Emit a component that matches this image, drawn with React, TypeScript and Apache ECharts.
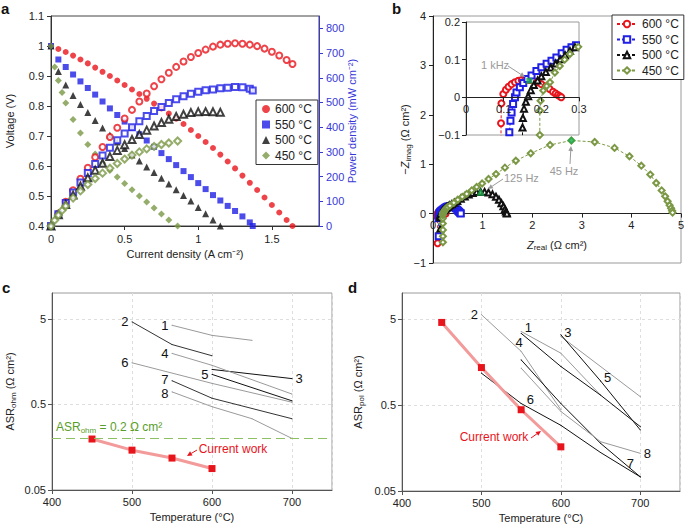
import React, { useEffect, useRef } from "react";
import * as echarts from "echarts";

const FONT = "'Liberation Sans', Arial, Helvetica, sans-serif";
const RED = "#e8141c";
const BLUE = "#1f1fe6";
const BLACK = "#111111";
const OLIVE = "#7b9845";
const GREEN = "#1fae4b";
const AXIS_BLUE = "#3838d8";
const GRAY_TXT = "#9a9a9a";

// ---------------- Panel a: I-V and power density ----------------
const tempLabels = ["600 °C", "550 °C", "500 °C", "450 °C"];
const current600 = [0, 0.05, 0.1, 0.15, 0.2, 0.25, 0.3, 0.35, 0.4, 0.45, 0.5, 0.55, 0.6, 0.65, 0.7, 0.75, 0.8, 0.85, 0.9, 0.95, 1.0, 1.05, 1.1, 1.15, 1.2, 1.25, 1.3, 1.35, 1.4, 1.45, 1.5, 1.55, 1.6, 1.64];
const voltage600 = [1.0, 0.99, 0.98, 0.968, 0.955, 0.942, 0.928, 0.914, 0.9, 0.885, 0.87, 0.855, 0.84, 0.824, 0.808, 0.792, 0.775, 0.758, 0.74, 0.72, 0.7, 0.68, 0.66, 0.638, 0.615, 0.592, 0.568, 0.544, 0.52, 0.495, 0.47, 0.445, 0.42, 0.4];
const current550 = [0, 0.05, 0.1, 0.15, 0.2, 0.25, 0.3, 0.35, 0.4, 0.45, 0.5, 0.55, 0.6, 0.65, 0.7, 0.75, 0.8, 0.85, 0.9, 0.95, 1.0, 1.05, 1.1, 1.15, 1.2, 1.25, 1.3, 1.35, 1.37];
const voltage550 = [1.0, 0.955, 0.93, 0.905, 0.882, 0.86, 0.838, 0.815, 0.792, 0.77, 0.748, 0.727, 0.706, 0.685, 0.664, 0.643, 0.623, 0.603, 0.583, 0.563, 0.543, 0.523, 0.503, 0.485, 0.467, 0.45, 0.432, 0.412, 0.4];
const current500 = [0, 0.05, 0.1, 0.15, 0.2, 0.25, 0.3, 0.35, 0.4, 0.45, 0.5, 0.55, 0.6, 0.65, 0.7, 0.75, 0.8, 0.85, 0.9, 0.95, 1.0, 1.05, 1.1, 1.15];
const voltage500 = [1.0, 0.915, 0.87, 0.835, 0.805, 0.778, 0.752, 0.727, 0.703, 0.68, 0.658, 0.637, 0.617, 0.597, 0.578, 0.559, 0.54, 0.521, 0.502, 0.483, 0.462, 0.441, 0.42, 0.4];
const current450 = [0, 0.025, 0.05, 0.075, 0.1, 0.15, 0.2, 0.25, 0.3, 0.35, 0.4, 0.45, 0.5, 0.55, 0.6, 0.65, 0.7, 0.75, 0.8, 0.86];
const voltage450 = [1.0, 0.93, 0.885, 0.845, 0.81, 0.755, 0.71, 0.672, 0.64, 0.61, 0.585, 0.563, 0.542, 0.521, 0.5, 0.48, 0.46, 0.44, 0.42, 0.4];

// ---------------- Panel b: Nyquist plots [Zreal, -Zimag] ----------------
const nyquist600 = [[0.093, -0.6], [0.093, -0.069], [0.094, -0.016], [0.099, 0.009], [0.106, 0.02], [0.113, 0.028], [0.121, 0.035], [0.13, 0.04], [0.139, 0.044], [0.148, 0.046], [0.157, 0.047], [0.167, 0.046], [0.178, 0.044], [0.189, 0.04], [0.2, 0.035], [0.211, 0.029], [0.222, 0.022], [0.231, 0.015], [0.238, 0.01], [0.244, 0.006], [0.249, 0.003], [0.253, 0.0]];
const nyquist550 = [[0.115, -0.46], [0.115, -0.093], [0.118, -0.062], [0.121, -0.04], [0.125, -0.018], [0.13, 0.0], [0.134, 0.013], [0.143, 0.027], [0.152, 0.038], [0.163, 0.049], [0.174, 0.058], [0.187, 0.07], [0.2, 0.08], [0.214, 0.089], [0.227, 0.097], [0.24, 0.106], [0.254, 0.117], [0.267, 0.126], [0.28, 0.133], [0.292, 0.138], [0.31, 0.145], [0.34, 0.152], [0.37, 0.152], [0.4, 0.145], [0.43, 0.13], [0.46, 0.108], [0.49, 0.08], [0.51, 0.055], [0.53, 0.03], [0.55, 0.01], [0.56, 0.0]];
const nyquist500 = [[0.15, -0.3], [0.15, -0.08], [0.151, -0.055], [0.154, -0.03], [0.159, -0.012], [0.165, 0.003], [0.172, 0.019], [0.18, 0.033], [0.19, 0.045], [0.2, 0.056], [0.212, 0.067], [0.225, 0.079], [0.238, 0.09], [0.25, 0.101], [0.263, 0.112], [0.276, 0.123], [0.289, 0.133], [0.31, 0.148], [0.34, 0.168], [0.38, 0.19], [0.43, 0.22], [0.49, 0.255], [0.56, 0.3], [0.64, 0.345], [0.72, 0.385], [0.8, 0.415], [0.88, 0.435], [0.96, 0.44], [1.04, 0.44], [1.12, 0.425], [1.2, 0.39], [1.27, 0.34], [1.33, 0.28], [1.38, 0.21], [1.42, 0.15], [1.45, 0.09], [1.47, 0.045], [1.485, 0.015], [1.49, 0.0]];
const nyquist450 = [[0.2, -0.58], [0.2, -0.46], [0.2, -0.33], [0.198, -0.2], [0.196, -0.1], [0.196, -0.035], [0.198, -0.009], [0.205, 0.018], [0.214, 0.03], [0.223, 0.04], [0.236, 0.066], [0.249, 0.083], [0.262, 0.1], [0.276, 0.115], [0.298, 0.134], [0.34, 0.16], [0.42, 0.22], [0.5, 0.28], [0.59, 0.34], [0.68, 0.4], [0.78, 0.47], [0.88, 0.54], [0.99, 0.61], [1.12, 0.7], [1.27, 0.8], [1.45, 0.93], [1.67, 1.07], [1.97, 1.22], [2.36, 1.39], [2.79, 1.48], [3.26, 1.45], [3.66, 1.33], [3.96, 1.16], [4.2, 0.97], [4.38, 0.79], [4.5, 0.62], [4.61, 0.47], [4.68, 0.35], [4.73, 0.25], [4.77, 0.17], [4.8, 0.11], [4.82, 0.06], [4.83, 0.02]];
const freq1kHz = [[0.168, 0.044]];
const freq125Hz = [[0.96, 0.44]];
const freq45Hz = [[2.79, 1.48]];

// ---------------- Panel c: ohmic ASR [T, ASR] ----------------
const tempTicks = [400, 500, 600, 700];
const asrTicks = [0.05, 0.5, 5];
const ohmRef1 = [[550, 4.2], [600, 3.2], [650, 2.8]];
const ohmRef2 = [[500, 4.6], [550, 2.5], [600, 1.85]];
const ohmRef3 = [[600, 1.28], [700, 1.0]];
const ohmRef4 = [[550, 1.97], [600, 1.43], [700, 0.66]];
const ohmRef5 = [[600, 1.12], [700, 0.55]];
const ohmRef6 = [[500, 1.53], [600, 0.88], [700, 0.53]];
const ohmRef7 = [[550, 0.945], [600, 0.59], [700, 0.34]];
const ohmRef8 = [[550, 0.7], [600, 0.47], [650, 0.34], [700, 0.2]];
const ohmWork = [[450, 0.197], [500, 0.146], [550, 0.118], [600, 0.089]];
const ohmTarget = 0.2;

// ---------------- Panel d: polarisation ASR [T, ASR] ----------------
const polRef1 = [[550, 3.57], [600, 2.0], [650, 0.65]];
const polRef2 = [[500, 5.6], [550, 2.1], [600, 0.44]];
const polRef3 = [[600, 3.13], [700, 0.625]];
const polRef4 = [[550, 3.4], [600, 1.4], [650, 0.65], [700, 0.28]];
const polRef5 = [[600, 3.27], [650, 0.95], [700, 0.256]];
const polRef6 = [[500, 1.17], [550, 0.52], [600, 0.29], [650, 0.14], [700, 0.073]];
const polRef7 = [[550, 1.67], [600, 0.52], [650, 0.179], [700, 0.073]];
const polRef8 = [[550, 1.34], [600, 0.42], [650, 0.187], [700, 0.137]];
const polWork = [[450, 4.55], [500, 1.36], [550, 0.44], [600, 0.163]];

const minus = (v: number) => String(v).replace("-", "−");
const axText = { color: "#222", fontSize: 11, fontFamily: FONT };
const nameStyle = { color: "#222", fontSize: 11, fontFamily: FONT };
const subRich = {
  n: { fontSize: 11, color: "#222", fontFamily: FONT, lineHeight: 14 },
  i: { fontSize: 11, color: "#222", fontFamily: FONT, fontStyle: "italic", lineHeight: 14 },
  s: { fontSize: 8, color: "#222", fontFamily: FONT, verticalAlign: "bottom", lineHeight: 9 },
};

function arrow(x1: number, y1: number, x2: number, y2: number, color: string) {
  const ang = Math.atan2(y2 - y1, x2 - x1);
  const L = 5, W = 2.4;
  const bx = x2 - L * Math.cos(ang), by = y2 - L * Math.sin(ang);
  const px = -Math.sin(ang) * W, py = Math.cos(ang) * W;
  return [
    { type: "line", z: 100, shape: { x1, y1, x2: bx, y2: by }, style: { stroke: color, lineWidth: 1 } },
    { type: "polygon", z: 100, shape: { points: [[x2, y2], [bx + px, by + py], [bx - px, by - py]] }, style: { fill: color } },
  ];
}

function refSeries(data: number[][], color: string, xi: number, yi: number, text: string, idx: number, pos: string, offset: number[] = [0, 0]) {
  return {
    type: "line",
    xAxisIndex: xi,
    yAxisIndex: yi,
    symbol: "circle",
    symbolSize: 1,
    silent: true,
    z: 3,
    lineStyle: { color, width: 1 },
    itemStyle: { color },
    label: { show: false },
    data: data.map((p, i) =>
      i === idx
        ? { value: p, label: { show: true, formatter: text, position: pos, offset, distance: 3, fontSize: 13, lineHeight: 11, color: "#111", fontFamily: FONT } }
        : p
    ),
  };
}

// zero-line offset for an x axis drawn at y = 0 inside a grid
const zeroOffset = (height: number, min: number, max: number) => -height * (0 - min) / (max - min);

function buildOption() {
  const polar = [
    { label: tempLabels[0], cur: current600, volt: voltage600, color: RED, sym: "circle", open: "emptyCircle", size: 6 },
    { label: tempLabels[1], cur: current550, volt: voltage550, color: BLUE, sym: "rect", open: "emptyRect", size: 6 },
    { label: tempLabels[2], cur: current500, volt: voltage500, color: BLACK, sym: "triangle", open: "emptyTriangle", size: 7 },
    { label: tempLabels[3], cur: current450, volt: voltage450, color: OLIVE, sym: "diamond", open: "emptyDiamond", size: 7 },
  ];
  const nyq = [
    { key: "b600", data: nyquist600, color: RED, sym: "emptyCircle" },
    { key: "b550", data: nyquist550, color: BLUE, sym: "emptyRect" },
    { key: "b500", data: nyquist500, color: BLACK, sym: "emptyTriangle" },
    { key: "b450", data: nyquist450, color: OLIVE, sym: "emptyDiamond" },
  ];
  const nyqName: Record<string, string> = { b600: tempLabels[0], b550: tempLabels[1], b500: tempLabels[2], b450: tempLabels[3] };

  const series: any[] = [];
  polar.forEach((p) => {
    series.push({
      type: "scatter", name: p.label, xAxisIndex: 0, yAxisIndex: 0, symbol: p.sym, symbolSize: p.size,
      itemStyle: { color: p.color }, z: 3, silent: true,
      data: p.cur.map((c, i) => [c, p.volt[i]]),
    });
  });
  polar.forEach((p) => {
    series.push({
      type: "scatter", name: "P " + p.label, xAxisIndex: 0, yAxisIndex: 1, symbol: p.open, symbolSize: p.size,
      itemStyle: { color: p.color, borderColor: p.color, borderWidth: 1 }, z: 3, silent: true,
      data: p.cur.map((c, i) => [c, Math.round(c * p.volt[i] * 1000)]),
    });
  });
  nyq.forEach((n) => {
    const common = {
      type: "line", name: n.key, symbol: n.sym, symbolSize: 6, showAllSymbol: true, silent: true,
      lineStyle: { color: n.color, width: 1, type: [3, 2] }, itemStyle: { color: n.color, borderWidth: 1 },
      data: n.data,
    };
    series.push({ ...common, xAxisIndex: 1, yAxisIndex: 2, z: 2 });
    series.push({ ...common, xAxisIndex: 2, yAxisIndex: 3, z: 5, clip: true });
  });
  series.push({ type: "scatter", xAxisIndex: 1, yAxisIndex: 2, symbol: "triangle", symbolSize: 8, itemStyle: { color: GREEN }, z: 4, silent: true, data: freq125Hz });
  series.push({ type: "scatter", xAxisIndex: 1, yAxisIndex: 2, symbol: "diamond", symbolSize: 8, itemStyle: { color: GREEN }, z: 4, silent: true, data: freq45Hz });
  series.push({ type: "scatter", xAxisIndex: 2, yAxisIndex: 3, symbol: "rect", symbolSize: 6, itemStyle: { color: GREEN }, z: 6, silent: true, data: freq1kHz });

  // Panel c
  const G = "#9a9a9a", D = "#333333", K = "#111111";
  series.push(refSeries(ohmRef1, G, 3, 4, "1", 0, "left"));
  series.push(refSeries(ohmRef2, D, 3, 4, "2", 0, "left"));
  series.push(refSeries(ohmRef3, K, 3, 4, "3", 1, "right"));
  series.push(refSeries(ohmRef4, G, 3, 4, "4", 0, "left"));
  series.push(refSeries(ohmRef5, K, 3, 4, "5", 0, "left"));
  series.push(refSeries(ohmRef6, G, 3, 4, "6", 0, "left"));
  series.push(refSeries(ohmRef7, D, 3, 4, "7", 0, "left", [0, -1.5]));
  series.push(refSeries(ohmRef8, G, 3, 4, "8", 0, "left", [0, 1.5]));
  series.push({
    type: "line", xAxisIndex: 3, yAxisIndex: 4, symbol: "rect", symbolSize: 7, silent: true, z: 4,
    lineStyle: { color: "#f39a9a", width: 3 }, itemStyle: { color: RED }, data: ohmWork,
    markLine: {
      silent: true, symbol: "none", label: { show: false },
      lineStyle: { color: "#8cc063", width: 1.2, type: [9, 5] },
      data: [{ yAxis: ohmTarget }],
    },
  });
  // Panel d
  series.push(refSeries(polRef1, G, 4, 5, "1", 0, "right", [0, -4]));
  series.push(refSeries(polRef2, G, 4, 5, "2", 0, "left"));
  series.push(refSeries(polRef3, G, 4, 5, "3", 0, "right", [0, -4]));
  series.push(refSeries(polRef4, K, 4, 5, "4", 0, "bottom", [-2, 0]));
  series.push(refSeries(polRef5, K, 4, 5, "5", 1, "right", [0, -3]));
  series.push(refSeries(polRef6, K, 4, 5, "6", 1, "right", [2, -4]));
  series.push(refSeries(polRef7, K, 4, 5, "7", 3, "top", [-10, -4]));
  series.push(refSeries(polRef8, G, 4, 5, "8", 3, "right"));
  series.push({
    type: "line", xAxisIndex: 4, yAxisIndex: 5, symbol: "rect", symbolSize: 7, silent: true, z: 4,
    lineStyle: { color: "#f39a9a", width: 3 }, itemStyle: { color: RED }, data: polWork,
  });

  const tempAxis = (grid: number) => ({
    type: "value", gridIndex: grid, min: tempTicks[0], max: 750, interval: 100,
    axisLine: { onZero: false, lineStyle: { color: "#555" } },
    axisTick: { length: 4, lineStyle: { color: "#555" } },
    axisLabel: { ...axText, showMaxLabel: false, margin: 6 },
    splitLine: { show: true, lineStyle: { color: "#dedede", type: [3, 3] } },
    name: "Temperature (°C)", nameLocation: "middle", nameGap: 21, nameMoveOverlap: false, nameTextStyle: nameStyle,
  });
  const asrAxis = (grid: number, sub: string, gap: number) => ({
    type: "log", logBase: 10, gridIndex: grid, min: 0.05, max: 10,
    axisLine: { show: true, onZero: false, lineStyle: { color: "#555" } },
    axisTick: { show: true, length: 4, lineStyle: { color: "#555" }, customValues: asrTicks },
    axisLabel: { ...axText, margin: 6, customValues: asrTicks, formatter: (v: number) => String(+Number(v).toPrecision(2)) },
    splitLine: { show: true, lineStyle: { color: "#dedede", type: [3, 3] } },
    minorTick: { show: false },
    name: `{n|ASR}{s|${sub}}{n| (Ω cm²)}`, nameLocation: "middle", nameRotate: 90, nameGap: gap, nameMoveOverlap: false,
    nameTextStyle: { ...nameStyle, rich: subRich },
  });

  return {
    animation: false,
    backgroundColor: "#fff",
    textStyle: { fontFamily: FONT },
    grid: [
      { left: 51, top: 16, width: 268, height: 210, show: true, borderColor: "#444", borderWidth: 1, outerBoundsMode: "none" },
      { left: 433, top: 16, width: 248, height: 247, show: true, borderColor: "#9a9a9a", borderWidth: 1, outerBoundsMode: "none" },
      { left: 466, top: 22, width: 113, height: 113, show: true, borderColor: "#9a9a9a", borderWidth: 1, backgroundColor: "#fff", z: 3, outerBoundsMode: "none" },
      { left: 52, top: 293, width: 280, height: 197, show: true, borderColor: "#9a9a9a", borderWidth: 1, outerBoundsMode: "none" },
      { left: 402, top: 293, width: 278, height: 198, show: true, borderColor: "#9a9a9a", borderWidth: 1, outerBoundsMode: "none" },
    ],
    legend: [
      {
        left: 256, top: 100, orient: "vertical", data: tempLabels, selectedMode: false,
        itemWidth: 8, itemHeight: 8, itemGap: 3.5, padding: [3, 6, 3, 6],
        borderColor: "#333", borderWidth: 1, backgroundColor: "#fff",
        textStyle: { fontSize: 12, color: "#222", fontFamily: FONT },
      },
      {
        left: 612, top: 15, orient: "vertical", data: ["b600", "b550", "b500", "b450"], selectedMode: false,
        formatter: (n: string) => nyqName[n],
        itemWidth: 20, itemHeight: 8, itemGap: 3.5, padding: [3, 5, 3, 4],
        borderColor: "#333", borderWidth: 1, backgroundColor: "#fff",
        textStyle: { fontSize: 12, color: "#222", fontFamily: FONT },
      },
    ],
    xAxis: [
      {
        type: "value", gridIndex: 0, min: 0, max: 1.82, interval: 0.5,
        axisLine: { onZero: false, lineStyle: { color: "#333" } },
        axisTick: { length: 4, lineStyle: { color: "#333" } },
        axisLabel: { ...axText, showMaxLabel: false, margin: 7 },
        splitLine: { show: false },
        name: "Current density (A cm⁻²)", nameLocation: "middle", nameGap: 22, nameMoveOverlap: false, nameTextStyle: nameStyle,
      },
      {
        type: "value", gridIndex: 1, min: 0, max: 5, interval: 1,
        offset: zeroOffset(247, -1, 4),
        axisLine: { onZero: false, lineStyle: { color: "#222" } },
        axisTick: { length: 4, lineStyle: { color: "#222" } },
        axisLabel: { ...axText, margin: 6 },
        splitLine: { show: false },
        name: "{i|Z}{s|real}{n| (Ω cm²)}", nameLocation: "middle", nameGap: 24, nameMoveOverlap: false,
        nameTextStyle: { ...nameStyle, rich: subRich },
      },
      {
        type: "value", gridIndex: 2, min: 0, max: 0.3, interval: 0.1, z: 6,
        offset: zeroOffset(113, -0.1, 0.2),
        axisLine: { onZero: false, lineStyle: { color: "#222" } },
        axisTick: { length: 4, lineStyle: { color: "#222" } },
        axisLabel: { ...axText, margin: 6, formatter: (v: number) => minus(+v.toFixed(1)) },
        splitLine: { show: false },
      },
      tempAxis(3),
      tempAxis(4),
    ],
    yAxis: [
      {
        type: "value", gridIndex: 0, min: 0.4, max: 1.1, interval: 0.1,
        axisLine: { show: true, onZero: false, lineStyle: { color: "#333" } },
        axisTick: { show: true, length: 4, lineStyle: { color: "#333" } },
        axisLabel: { ...axText, margin: 7, formatter: (v: number) => String(+v.toFixed(1)) },
        splitLine: { show: false },
        name: "Voltage (V)", nameLocation: "middle", nameRotate: 90, nameGap: 36, nameMoveOverlap: false, nameTextStyle: nameStyle,
      },
      {
        type: "value", gridIndex: 0, position: "right", min: 0, max: 850, interval: 100,
        axisLine: { show: true, onZero: false, lineStyle: { color: AXIS_BLUE } },
        axisTick: { show: true, length: 4, lineStyle: { color: AXIS_BLUE } },
        axisLabel: { ...axText, color: AXIS_BLUE, margin: 7, showMaxLabel: false },
        splitLine: { show: false },
        name: "Power density (mW cm⁻²)", nameLocation: "middle", nameRotate: 90, nameGap: 27, nameMoveOverlap: false,
        nameTextStyle: { ...nameStyle, color: AXIS_BLUE },
      },
      {
        type: "value", gridIndex: 1, min: -1, max: 4, interval: 1,
        axisLine: { show: true, onZero: false, lineStyle: { color: "#222" } },
        axisTick: { show: true, length: 4, lineStyle: { color: "#222" } },
        axisLabel: { ...axText, margin: 7, formatter: (v: number) => minus(v) },
        splitLine: { show: false },
        name: "{n|−}{i|Z}{s|imag}{n| (Ω cm²)}", nameLocation: "middle", nameRotate: 90, nameGap: 21, nameMoveOverlap: false,
        nameTextStyle: { ...nameStyle, rich: subRich },
      },
      {
        type: "value", gridIndex: 2, min: -0.1, max: 0.2, interval: 0.1, z: 6,
        axisLine: { show: true, onZero: false, lineStyle: { color: "#222" } },
        axisTick: { show: true, length: 4, lineStyle: { color: "#222" } },
        axisLabel: { ...axText, margin: 6, formatter: (v: number) => minus(+v.toFixed(1)) },
        splitLine: { show: false },
      },
      asrAxis(3, "ohm", 35),
      asrAxis(4, "pol", 37),
    ],
    series,
    graphic: [
      { type: "text", left: 1, top: 1, z: 100, style: { text: "a", font: `bold 15px ${FONT}`, fill: "#111" } },
      { type: "text", left: 392, top: 1, z: 100, style: { text: "b", font: `bold 15px ${FONT}`, fill: "#111" } },
      { type: "text", left: 2, top: 280, z: 100, style: { text: "c", font: `bold 15px ${FONT}`, fill: "#111" } },
      { type: "text", left: 348, top: 280, z: 100, style: { text: "d", font: `bold 15px ${FONT}`, fill: "#111" } },
      { type: "text", x: 481, y: 65, z: 100, style: { text: "1 kHz", font: `11px ${FONT}`, fill: GRAY_TXT, verticalAlign: "middle" } },
      ...arrow(508, 66, 525, 77, GRAY_TXT),
      { type: "text", x: 504, y: 178, z: 100, style: { text: "125 Hz", font: `11px ${FONT}`, fill: GRAY_TXT, verticalAlign: "middle" } },
      ...arrow(503, 179, 488, 189, GRAY_TXT),
      { type: "text", x: 564, y: 171, z: 100, style: { text: "45 Hz", font: `11px ${FONT}`, fill: GRAY_TXT, verticalAlign: "middle", align: "center" } },
      ...arrow(570, 164, 571, 146, GRAY_TXT),
      {
        type: "text", x: 56, y: 427, z: 100,
        style: {
          text: "{n|ASR}{s|ohm}{n| = 0.2 Ω cm²}", verticalAlign: "middle",
          rich: {
            n: { fontSize: 12, fill: "#5a9e2a", fontFamily: FONT, lineHeight: 15 },
            s: { fontSize: 8, fill: "#5a9e2a", fontFamily: FONT, verticalAlign: "bottom", lineHeight: 9 },
          },
        },
      },
      { type: "text", x: 233, y: 449, z: 100, style: { text: "Current work", font: `12px ${FONT}`, fill: RED, align: "center", verticalAlign: "middle" } },
      ...arrow(197, 450, 187, 456, RED),
      { type: "text", x: 494, y: 437, z: 100, style: { text: "Current work", font: `12px ${FONT}`, fill: RED, align: "center", verticalAlign: "middle" } },
      ...arrow(531, 438, 541, 431, RED),
    ],
  };
}

export default function App() {
  const ref = useRef<HTMLDivElement>(null);
  useEffect(() => {
    if (!ref.current) return;
    const chart = echarts.init(ref.current, null, { renderer: "svg" });
    chart.setOption(buildOption() as any);
    return () => chart.dispose();
  }, []);
  return <div ref={ref} style={{ position: "absolute", left: 0, top: 0, width: 685, height: 525, background: "#fff" }} />;
}
